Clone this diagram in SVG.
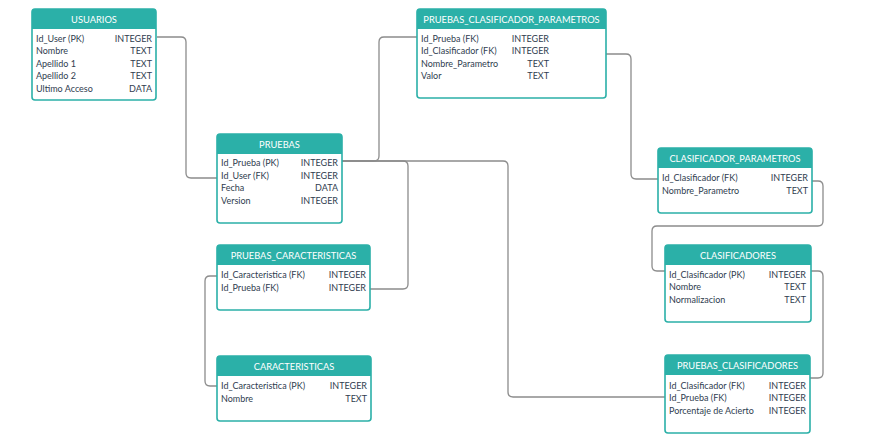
<svg xmlns="http://www.w3.org/2000/svg" width="882" height="439" viewBox="0 0 882 439">
<style>
.box{fill:#ffffff;stroke:#2bb0a8;stroke-width:1.6}
.hd{fill:#2bb0a8}
.ht{font-family:Lato,"Open Sans","Liberation Sans",sans-serif;font-size:9.3px;fill:#ffffff;text-anchor:middle}
.f{font-family:Lato,"Open Sans","Liberation Sans",sans-serif;font-size:9px;fill:#2f3d4f}
.t{font-family:Lato,"Open Sans","Liberation Sans",sans-serif;font-size:9px;fill:#2f3d4f;text-anchor:end}
.c{fill:none;stroke:#8c8c8c;stroke-width:1.3}
</style>
<rect width="882" height="439" fill="#ffffff"/>
<g id="connectors">
<path class="c" d="M157,37 H181 Q186,37 186,42 V173 Q186,178 191,178 H217"/>
<path class="c" d="M342,161 H374 Q379,161 379,156 V42 Q379,37 384,37 H417"/>
<path class="c" d="M342,161 H403 Q408,161 408,166 V284 Q408,289 403,289 H370"/>
<path class="c" d="M342,161 H503 Q508,161 508,166 V392 Q508,397 513,397 H665"/>
<path class="c" d="M606,54 H626 Q631,54 631,59 V174 Q631,179 636,179 H658"/>
<path class="c" d="M812,181 H818 Q823,181 823,186 V221 Q823,226 818,226 H657 Q652,226 652,231 V266 Q652,271 657,271 H665"/>
<path class="c" d="M811,271 H818 Q823,271 823,276 V373 Q823,378 818,378 H810"/>
<path class="c" d="M217,276 H210 Q205,276 205,281 V381 Q205,386 210,386 H217"/>
</g>
<g id="usuarios">
<rect class="box" x="32" y="9" width="124" height="91" rx="3"/>
<path class="hd" d="M32,29 V12 Q32,9 35,9 H153 Q156,9 156,12 V29 Z"/>
<text class="ht" x="94" y="22.5">USUARIOS</text>
<text class="f" x="36" y="41.5">Id_User (PK)</text><text class="t" x="152" y="41.5">INTEGER</text>
<text class="f" x="36" y="54">Nombre</text><text class="t" x="152" y="54">TEXT</text>
<text class="f" x="36" y="66.5">Apellido 1</text><text class="t" x="152" y="66.5">TEXT</text>
<text class="f" x="36" y="79">Apellido 2</text><text class="t" x="152" y="79">TEXT</text>
<text class="f" x="36" y="91.5">Ultimo Acceso</text><text class="t" x="152" y="91.5">DATA</text>
</g>
<g id="pruebas_clasificador_parametros">
<rect class="box" x="417" y="9" width="189" height="89" rx="3"/>
<path class="hd" d="M417,29 V12 Q417,9 420,9 H603 Q606,9 606,12 V29 Z"/>
<text class="ht" x="511.5" y="22.5">PRUEBAS_CLASIFICADOR_PARAMETROS</text>
<text class="f" x="421" y="41.5">Id_Prueba (FK)</text><text class="t" x="549" y="41.5">INTEGER</text>
<text class="f" x="421" y="54">Id_Clasificador (FK)</text><text class="t" x="549" y="54">INTEGER</text>
<text class="f" x="421" y="66.5">Nombre_Parametro</text><text class="t" x="549" y="66.5">TEXT</text>
<text class="f" x="421" y="79">Valor</text><text class="t" x="549" y="79">TEXT</text>
</g>
<g id="pruebas">
<rect class="box" x="217" y="134" width="125" height="89" rx="3"/>
<path class="hd" d="M217,154 V137 Q217,134 220,134 H339 Q342,134 342,137 V154 Z"/>
<text class="ht" x="279.5" y="147.5">PRUEBAS</text>
<text class="f" x="221" y="166">Id_Prueba (PK)</text><text class="t" x="338" y="166">INTEGER</text>
<text class="f" x="221" y="178.5">Id_User (FK)</text><text class="t" x="338" y="178.5">INTEGER</text>
<text class="f" x="221" y="191">Fecha</text><text class="t" x="338" y="191">DATA</text>
<text class="f" x="221" y="203.5">Version</text><text class="t" x="338" y="203.5">INTEGER</text>
</g>
<g id="pruebas_caracteristicas">
<rect class="box" x="217" y="245" width="153" height="65" rx="3"/>
<path class="hd" d="M217,265 V248 Q217,245 220,245 H367 Q370,245 370,248 V265 Z"/>
<text class="ht" x="293.5" y="258.5">PRUEBAS_CARACTERISTICAS</text>
<text class="f" x="221" y="278">Id_Caracteristica (FK)</text><text class="t" x="366" y="278">INTEGER</text>
<text class="f" x="221" y="290.5">Id_Prueba (FK)</text><text class="t" x="366" y="290.5">INTEGER</text>
</g>
<g id="caracteristicas">
<rect class="box" x="217" y="356" width="154" height="65" rx="3"/>
<path class="hd" d="M217,376 V359 Q217,356 220,356 H368 Q371,356 371,359 V376 Z"/>
<text class="ht" x="294" y="369.5">CARACTERISTICAS</text>
<text class="f" x="221" y="389">Id_Caracteristica (PK)</text><text class="t" x="367" y="389">INTEGER</text>
<text class="f" x="221" y="401.5">Nombre</text><text class="t" x="367" y="401.5">TEXT</text>
</g>
<g id="clasificador_parametros">
<rect class="box" x="658" y="148" width="154" height="65" rx="3"/>
<path class="hd" d="M658,168 V151 Q658,148 661,148 H809 Q812,148 812,151 V168 Z"/>
<text class="ht" x="735" y="161.5">CLASIFICADOR_PARAMETROS</text>
<text class="f" x="662" y="181">Id_Clasificador (FK)</text><text class="t" x="808" y="181">INTEGER</text>
<text class="f" x="662" y="193.5">Nombre_Parametro</text><text class="t" x="808" y="193.5">TEXT</text>
</g>
<g id="clasificadores">
<rect class="box" x="665" y="245" width="146" height="77" rx="3"/>
<path class="hd" d="M665,265 V248 Q665,245 668,245 H808 Q811,245 811,248 V265 Z"/>
<text class="ht" x="738" y="258.5">CLASIFICADORES</text>
<text class="f" x="669" y="277.5">Id_Clasificador (PK)</text><text class="t" x="806" y="277.5">INTEGER</text>
<text class="f" x="669" y="290">Nombre</text><text class="t" x="806" y="290">TEXT</text>
<text class="f" x="669" y="302.5">Normalizacion</text><text class="t" x="806" y="302.5">TEXT</text>
</g>
<g id="pruebas_clasificadores">
<rect class="box" x="665" y="355" width="145" height="78" rx="3"/>
<path class="hd" d="M665,375 V358 Q665,355 668,355 H807 Q810,355 810,358 V375 Z"/>
<text class="ht" x="737.5" y="368.5">PRUEBAS_CLASIFICADORES</text>
<text class="f" x="669" y="388.5">Id_Clasificador (FK)</text><text class="t" x="806" y="388.5">INTEGER</text>
<text class="f" x="669" y="401">Id_Prueba (FK)</text><text class="t" x="806" y="401">INTEGER</text>
<text class="f" x="669" y="413.5">Porcentaje de Acierto</text><text class="t" x="806" y="413.5">INTEGER</text>
</g>
</svg>
